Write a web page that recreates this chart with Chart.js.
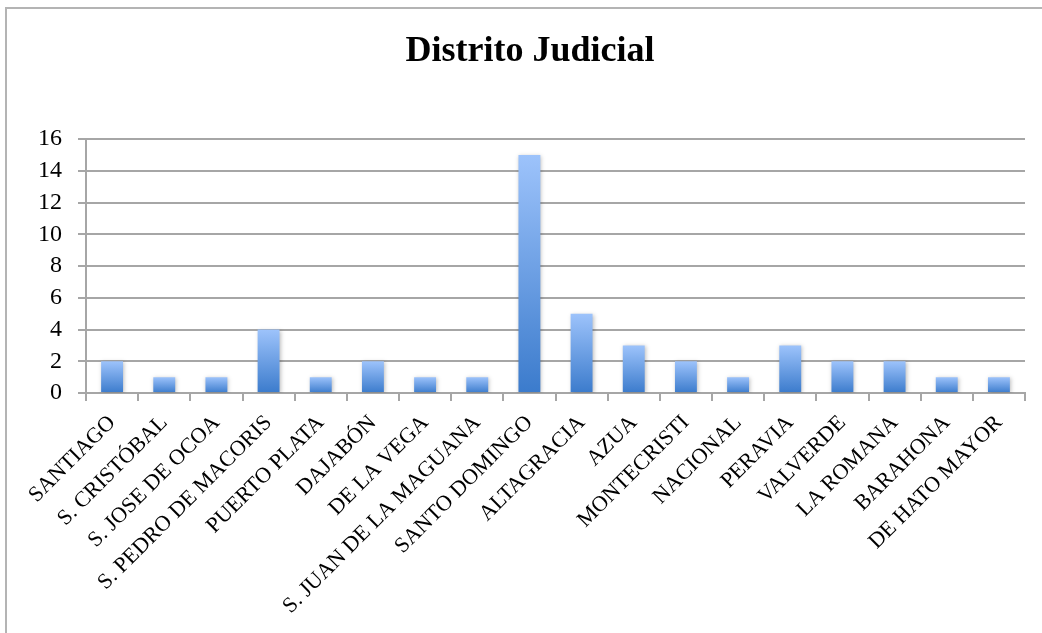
<!DOCTYPE html>
<html>
<head>
<meta charset="utf-8">
<script src="https://cdn.jsdelivr.net/npm/chart.js@4/dist/chart.umd.min.js"></script>
<style>
  html, body { margin: 0; padding: 0; background: #fff; overflow: hidden; }
  #wrap { position: relative; width: 1042px; height: 633px; overflow: hidden; }
  #marco { position: absolute; left: 5px; top: 7px; width: 1100px; height: 700px; border: 2px solid #b4b4b4; }
  #grafica { position: absolute; left: 0; top: 0; }
</style>
</head>
<body>
<div id="wrap">
  <div id="marco"></div>
  <canvas id="grafica" width="1042" height="633"></canvas>
</div>
<script>
// datos del grafico
const titulo = 'Distrito Judicial';
const distritos = ['SANTIAGO', 'S. CRISTÓBAL', 'S. JOSE DE OCOA', 'S. PEDRO DE MACORIS', 'PUERTO PLATA',
    'DAJABÓN', 'DE LA VEGA', 'S. JUAN DE LA MAGUANA', 'SANTO DOMINGO', 'ALTAGRACIA', 'AZUA',
    'MONTECRISTI', 'NACIONAL', 'PERAVIA', 'VALVERDE', 'LA ROMANA', 'BARAHONA', 'DE HATO MAYOR'];
const cantidades = [2, 1, 1, 4, 1, 2, 1, 1, 15, 5, 3, 2, 1, 3, 2, 2, 1, 1];
const ejeY = { min: 0, max: 16, paso: 2 };

const gris = '#a6a6a6';
const fuente = "'Liberation Serif', 'Times New Roman', serif";

// degradado vertical por barra
function colorBarra(context) {
    const chart = context.chart;
    if (!chart.chartArea || context.type !== 'data') return '#6a9ee6';
    const y = chart.scales.y;
    const top = y.getPixelForValue(context.raw);
    const base = y.getPixelForValue(0);
    const g = chart.ctx.createLinearGradient(0, top, 0, base);
    g.addColorStop(0, '#9dc3fb');
    g.addColorStop(1, '#3b7bcc');
    return g;
}

const sombra = {
    id: 'sombra',
    beforeDatasetsDraw(chart) {
        const ctx = chart.ctx;
        ctx.save();
        ctx.shadowColor = 'rgba(0,0,0,0.25)';
        ctx.shadowBlur = 4;
        ctx.shadowOffsetX = 1;
        ctx.shadowOffsetY = 1;
    },
    afterDatasetsDraw(chart) {
        chart.ctx.restore();
    }
};

let ctx = document.getElementById('grafica').getContext('2d');
new Chart(ctx, {
    type: 'bar',
    data: {
        labels: distritos,
        datasets: [{
            data: cantidades,
            backgroundColor: colorBarra,
            borderWidth: 0,
            barPercentage: 0.42,
            categoryPercentage: 1
        }]
    },
    options: {
        responsive: false,
        animation: false,
        devicePixelRatio: 1,
        layout: { padding: { left: 35, right: 17, top: 0, bottom: 0 } },
        plugins: {
            legend: { display: false },
            tooltip: { enabled: false },
            title: {
                display: true,
                text: titulo,
                color: '#000',
                font: { family: fuente, size: 36, weight: 'bold' },
                padding: { top: 30, bottom: 66 }
            }
        },
        scales: {
            x: {
                grid: { offset: true, drawOnChartArea: false, color: gris, lineWidth: 2, tickLength: 8 },
                border: { color: gris, width: 2 },
                ticks: {
                    color: '#000',
                    font: { family: fuente, size: 22 },
                    minRotation: 45,
                    maxRotation: 45,
                    autoSkip: false,
                    padding: 9
                },
                afterFit(scale) { scale.height = 240; }
            },
            y: {
                min: ejeY.min,
                max: ejeY.max,
                grid: { color: gris, lineWidth: 2, tickLength: 8 },
                border: { color: gris, width: 2 },
                ticks: {
                    stepSize: ejeY.paso,
                    autoSkip: false,
                    color: '#000',
                    font: { family: fuente, size: 24 },
                    padding: 16
                },
                afterFit(scale) { scale.width = 51; }
            }
        }
    },
    plugins: [sombra]
});
</script>
</body>
</html>
